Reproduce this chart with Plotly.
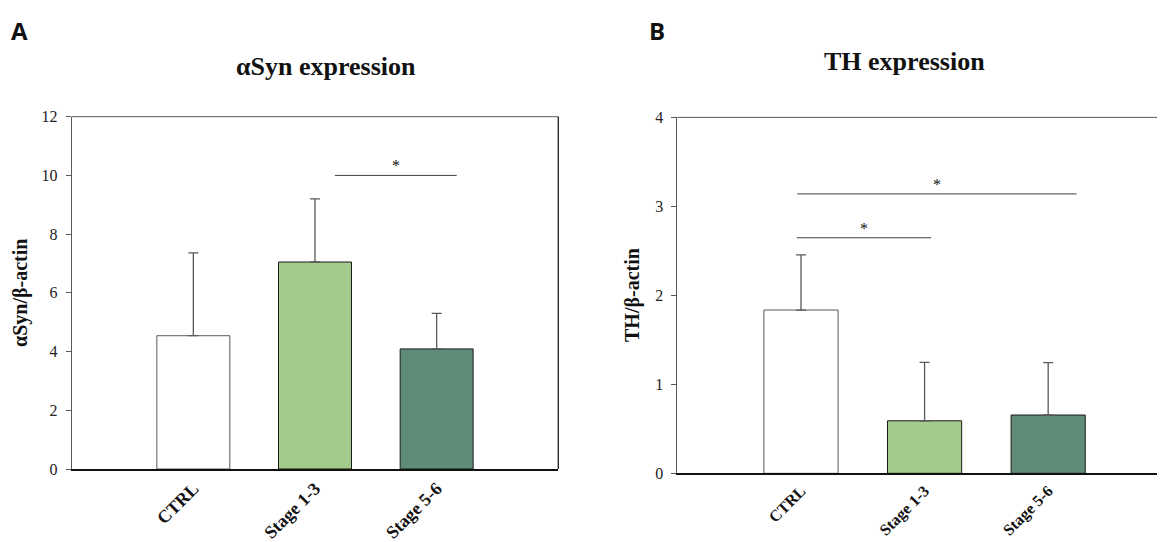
import plotly.graph_objects as go

categories = ["CTRL", "Stage 1-3", "Stage 5-6"]
bar_colors = ["#FFFFFF", "#A3CB8B", "#5E8C78"]

# Panel A: aSyn/b-actin
asyn_mean = [4.54, 7.05, 4.09]
asyn_err = [2.82, 2.15, 1.21]
# significance brackets: (x_start, x_end, height)
asyn_sig = [(1.163, 2.165, 10.0)]

# Panel B: TH/b-actin
th_mean = [1.835, 0.59, 0.655]
th_err = [0.62, 0.657, 0.588]
th_sig = [(-0.03, 2.23, 3.14), (-0.035, 1.053, 2.647)]

W, H = 1165, 542
OFF = 8  # page body margin offset
SERIF = "Liberation Serif"

def px_x(p):
    return (p - OFF) / W

def px_y(p):
    return 1 - (p - OFF) / H

fig = go.Figure()
xs = list(range(len(categories)))

def add_panel(means, errs, xa, ya):
    fig.add_trace(go.Bar(
        x=xs, y=means, width=0.6,
        marker=dict(color=bar_colors,
                    line=dict(color=["#595959", "#1a1a1a", "#1a1a1a"], width=1)),
        error_y=dict(type="data", array=errs, arrayminus=[0] * len(errs),
                     symmetric=False, color="#595959", thickness=1.3, width=5),
        xaxis=xa, yaxis=ya, showlegend=False, hoverinfo="skip",
    ))

add_panel(asyn_mean, asyn_err, "x", "y")
add_panel(th_mean, th_err, "x2", "y2")

tickfont = dict(family=SERIF, size=16, color="#222")

def xaxis_style(size):
    return dict(tickvals=xs, ticktext=categories, tickangle=-45,
                tickfont=dict(family=SERIF, size=size, color="#111", weight="bold"),
                showline=True, linecolor="#111", linewidth=2,
                ticks="", showgrid=False, zeroline=False, automargin=False)

common_y = dict(tickfont=tickfont, showline=True, linecolor="#595959", linewidth=1,
                ticks="outside", ticklen=5, tickcolor="#595959", ticklabelstandoff=5,
                showgrid=False, zeroline=False, automargin=False)

fig.update_layout(
    template="none",
    width=W, height=H, margin=dict(l=0, r=0, t=0, b=0, autoexpand=False),
    paper_bgcolor="white", plot_bgcolor="white",
    xaxis=dict(domain=[px_x(71.7), px_x(558.3)], range=[-1, 3], anchor="y", **xaxis_style(18)),
    yaxis=dict(domain=[px_y(469), px_y(116.7)], range=[0, 12], dtick=2, anchor="x", **common_y),
    xaxis2=dict(domain=[px_x(677.4), 1.0], range=[-1, 3.01], anchor="y2", **xaxis_style(16)),
    yaxis2=dict(domain=[px_y(473.3), px_y(117.4)], range=[0, 4], dtick=1, anchor="x2", **common_y),
)

# Box outline for panel A (top and right), top for panel B
fig.add_shape(type="line", xref="x domain", yref="y domain", x0=0, x1=1, y0=1, y1=1,
              line=dict(color="#595959", width=1))
fig.add_shape(type="line", xref="x domain", yref="y domain", x0=1, x1=1, y0=0, y1=1,
              line=dict(color="#1a1a1a", width=1.3))
fig.add_shape(type="line", xref="x2 domain", yref="y2 domain", x0=0, x1=1, y0=1, y1=1,
              line=dict(color="#595959", width=1))

def add_sig(sigs, xr, yr):
    for x0, x1, h in sigs:
        fig.add_shape(type="line", xref=xr, yref=yr, x0=x0, x1=x1, y0=h, y1=h,
                      line=dict(color="#404040", width=1))
        fig.add_annotation(xref=xr, yref=yr, x=(x0 + x1) / 2, y=h, text="*",
                           showarrow=False, xanchor="center", yanchor="bottom", yshift=-1,
                           font=dict(family=SERIF, size=16, color="#111"))

add_sig(asyn_sig, "x", "y")
add_sig(th_sig, "x2", "y2")

def label(x, y, text, size, family=SERIF, angle=0):
    fig.add_annotation(xref="paper", yref="paper", x=px_x(x), y=px_y(y),
                       text=text, showarrow=False, textangle=angle,
                       xanchor="center", yanchor="middle",
                       font=dict(family=family, size=size, color="#111"))

# Titles
label(326, 66, "<b>αSyn expression</b>", 26)
label(904, 62, "<b>TH expression</b>", 26)

# Y-axis titles
label(20, 293, "<b>αSyn/β-actin</b>", 20, angle=-90)
label(632, 295, "<b>TH/β-actin</b>", 20, angle=-90)

# Panel letters
label(19, 31, "<b>A</b>", 24, family="Open Sans")
label(657, 31, "<b>B</b>", 24, family="Open Sans")

fig.write_html("out.html")
